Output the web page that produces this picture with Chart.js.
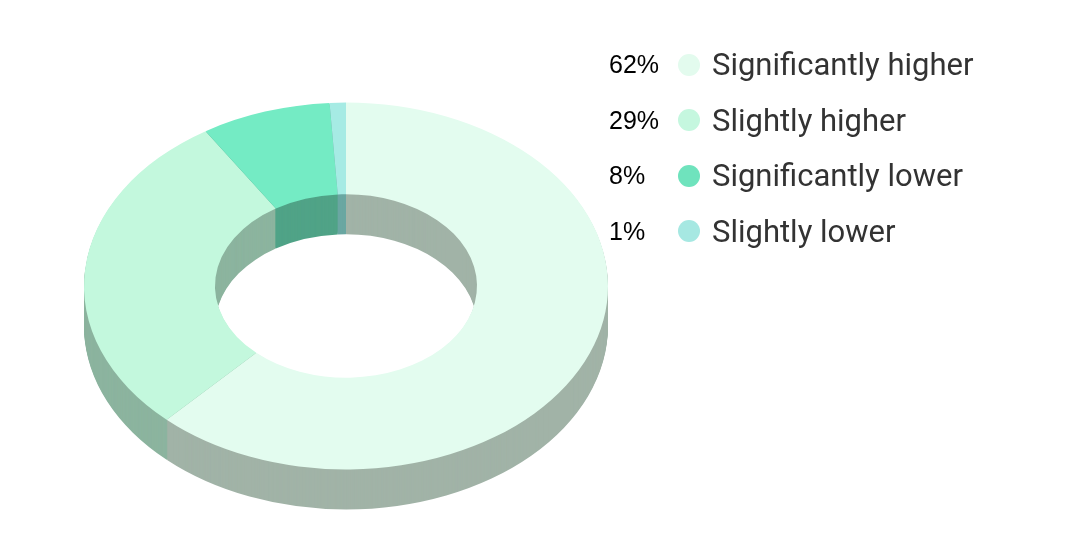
<!DOCTYPE html>
<html>
<head>
<meta charset="utf-8">
<script src="https://cdn.jsdelivr.net/npm/chart.js@4/dist/chart.umd.min.js"></script>
<style>
    html, body { margin: 0; padding: 0; background: #fff; }
    #wrap { position: relative; width: 1076px; height: 552px; overflow: hidden; }
    #chartBox { position: absolute; left: 0; top: 0; width: 692px; height: 552px; }
    #legend { position: absolute; left: 609px; top: 37px; font-family: Roboto, sans-serif; }
    .row { display: flex; align-items: center; height: 55.5px; }
    .pct { width: 69px; font-family: "Liberation Sans", Arial, sans-serif; font-size: 25px; color: #000; }
    .dot { width: 22px; height: 22px; border-radius: 50%; margin-right: 12px; }
    .lbl { font-size: 31px; color: #333; }
</style>
</head>
<body>
<div id="wrap">
    <div id="chartBox"><canvas id="donut"></canvas></div>
    <div id="legend"></div>
</div>
<script>
// Data
const labels = ['Significantly higher', 'Slightly higher', 'Significantly lower', 'Slightly lower'];
const values = [62, 29, 8, 1];
const pctLabels = ['62%', '29%', '8%', '1%'];

// Colors: top face and side wall of each slice
const topColors = ['#e3fcef', '#c3f8dd', '#74ebc4', '#a6ebe4'];
const sideColors = ['#a1b3a7', '#8cb49f', '#50a387', '#6aa7a2'];
const dotColors = ['#e3fbee', '#c5f7df', '#6fe3bd', '#a6e8e2'];

// Tilt settings
const tilt = 0.7;      // vertical squash of the ring
const depth = 40;      // thickness in pixels
const centerY = 286;   // where the ring's center lands on screen

// Plugin that squashes the doughnut and paints the extruded sides
const tiltPlugin = {
    id: 'tilt3d',
    beforeDatasetsDraw(chart) {
        const ctx = chart.ctx;
        const arcs = chart.getDatasetMeta(0).data;
        const cy = arcs[0].y;

        // side walls: stack shifted copies from bottom to top
        for (let dy = depth; dy >= 1; dy--) {
            ctx.save();
            ctx.translate(0, centerY + dy);
            ctx.scale(1, tilt);
            ctx.translate(0, -cy);
            arcs.forEach((arc, i) => {
                ctx.beginPath();
                ctx.arc(arc.x, arc.y, arc.outerRadius, arc.startAngle, arc.endAngle);
                ctx.arc(arc.x, arc.y, arc.innerRadius, arc.endAngle, arc.startAngle, true);
                ctx.closePath();
                ctx.fillStyle = sideColors[i];
                ctx.fill();
            });
            ctx.restore();
        }

        // top face is drawn by Chart.js under this transform
        ctx.save();
        ctx.translate(0, centerY);
        ctx.scale(1, tilt);
        ctx.translate(0, -cy);
    },
    afterDatasetsDraw(chart) {
        chart.ctx.restore();
    }
};

new Chart(document.getElementById('donut'), {
    type: 'doughnut',
    data: {
        labels: labels,
        datasets: [{
            data: values,
            backgroundColor: topColors,
            borderWidth: 0,
            clip: false
        }]
    },
    options: {
        responsive: true,
        maintainAspectRatio: false,
        animation: false,
        cutout: '50%',
        layout: { padding: { top: 14, bottom: 14 } },
        plugins: {
            legend: { display: false },
            tooltip: { enabled: false }
        }
    },
    plugins: [tiltPlugin]
});

// HTML legend
const legend = document.getElementById('legend');
labels.forEach((name, i) => {
    const row = document.createElement('div');
    row.className = 'row';
    row.innerHTML = `<span class="pct">${pctLabels[i]}</span>` +
        `<span class="dot" style="background:${dotColors[i]}"></span>` +
        `<span class="lbl">${name}</span>`;
    legend.appendChild(row);
});
</script>
</body>
</html>
